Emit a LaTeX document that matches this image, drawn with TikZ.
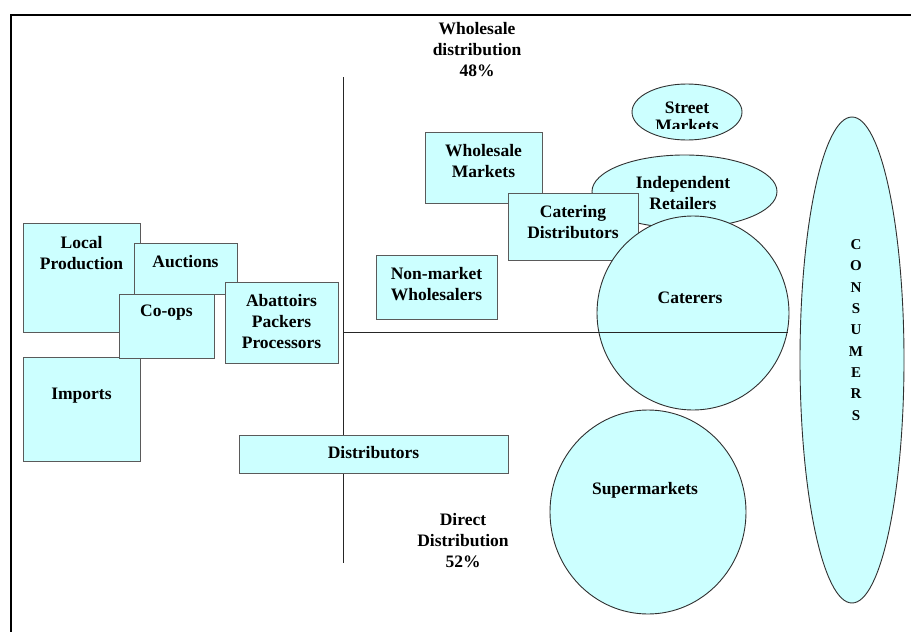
\documentclass[tikz,border=0pt]{standalone}
\usepackage{fontspec}
\setmainfont{Liberation Serif}
\usetikzlibrary{shapes.geometric}
\definecolor{boxfill}{HTML}{CCFFFF}
\definecolor{boxline}{HTML}{5A5A5A}
\definecolor{ellline}{HTML}{303030}
\begin{document}
\begin{tikzpicture}[x=1pt,y=-1pt,
  box/.style={draw=boxline, fill=boxfill, line width=1pt, inner sep=0, outer sep=0},
  oval/.style={ellipse, draw=ellline, fill=boxfill, line width=0.9pt, inner sep=0, outer sep=0},
  lbl/.style={font=\fontsize{17.5}{21}\selectfont\bfseries, align=center, inner sep=0},
  axisline/.style={draw=black!85, line width=1pt}]
\useasboundingbox (0,0) rectangle (911,632);
\fill[white] (0,0) rectangle (911,632);
% frame
\coordinate (fa) at (11,632);
\coordinate (fb) at (11,15);
\coordinate (fc) at (911,15);
\draw[line width=2.2pt] (fa) -- (fb) -- (fc);
% vertical axis
\coordinate (vtop) at (343,77);
\coordinate (vbot) at (343,563);
\draw[axisline] (vtop) -- (vbot);
% left boxes
\node[box, minimum width=117, minimum height=109] (lp) at (81.5,277.5) {};
\node[box, minimum width=117, minimum height=104] (imp) at (81.5,409) {};
\node[box, minimum width=103, minimum height=51] (auc) at (185.5,268.5) {};
\node[box, minimum width=95, minimum height=64] (coop) at (166.5,326) {};
\node[box, minimum width=113, minimum height=81] (aba) at (281.5,322.5) {};
\node[box, minimum width=269, minimum height=38] (dist) at (373.5,454) {};
% wholesale boxes and outlets
\node[box, minimum width=117, minimum height=71] (wm) at (483.5,167.5) {};
\node[box, minimum width=121, minimum height=64] (nmw) at (436.5,287) {};
\node[oval, minimum width=185, minimum height=73] (ir) at (684.5,191.5) {};
\node[box, minimum width=130, minimum height=67] (cd) at (573,226.5) {};
\node[oval, minimum width=192, minimum height=194] (cat) at (693,313) {};
\node[oval, minimum width=110, minimum height=56] (sm) at (687,112) {};
\node[oval, minimum width=196, minimum height=204] (sup) at (648,512) {};
\node[oval, minimum width=104, minimum height=486] (con) at (852,360) {};
% horizontal axis
\coordinate (hleft) at (343,332);
\coordinate (hright) at (788,332);
\draw[axisline] (hleft) -- (hright);
% labels
\node[lbl] (wtxt) at (477,50) {Wholesale\\distribution\\48\%};
\node[lbl] (dtxt) at (463,541) {Direct\\Distribution\\52\%};
\node[lbl] (lpt) at (81.5,253) {Local\\Production};
\node[lbl] (auct) at (185.5,262) {Auctions};
\node[lbl] (coopt) at (166.5,313) {Co-ops};
\node[lbl] (abat) at (281.5,322) {Abattoirs\\Packers\\Processors};
\node[lbl] (impt) at (81.5,396) {Imports};
\node[lbl] (distt) at (373.5,453) {Distributors};
\node[lbl] (wmt) at (483.5,161) {Wholesale\\Markets};
\node[lbl] (nmwt) at (436.5,284) {Non-market\\Wholesalers};
\node[lbl] (cdt) at (573,222) {Catering\\Distributors};
\node[lbl] (irt) at (683,193) {Independent\\Retailers};
\node[lbl] (catt) at (690,298) {Caterers};
\node[lbl] (supt) at (645,490) {Supermarkets};
\begin{scope}
\clip (600,80) rectangle (780,128);
\node[lbl, font=\fontsize{17.5}{18}\selectfont\bfseries] (smt) at (687,117) {Street\\Markets};
\end{scope}
\node[lbl, font=\fontsize{15}{21.3}\selectfont\bfseries] (cont) at (856,330) {C\\O\\N\\S\\U\\M\\E\\R\\S};
\end{tikzpicture}
\end{document}
